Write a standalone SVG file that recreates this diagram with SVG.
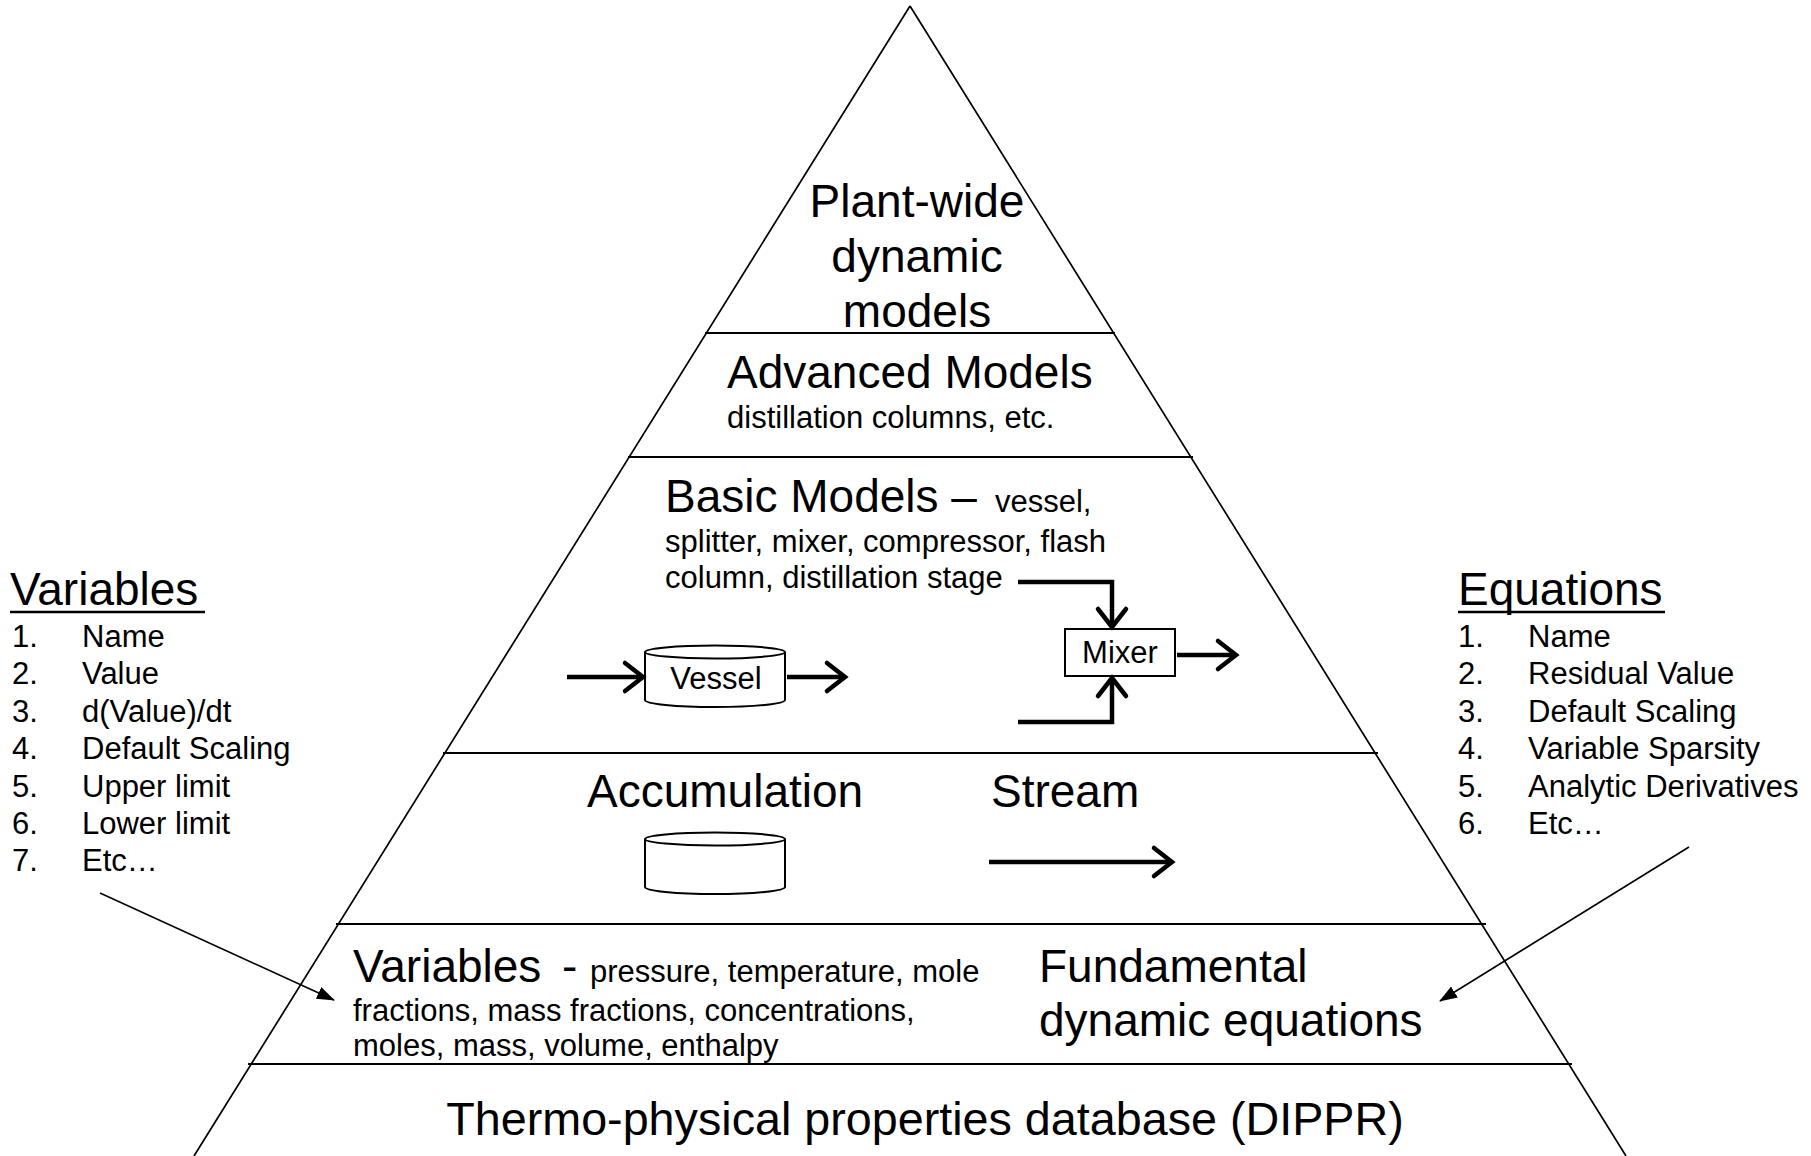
<svg xmlns="http://www.w3.org/2000/svg" width="1811" height="1156" viewBox="0 0 1811 1156">
<style>
text{font-family:"Liberation Sans",Arial,sans-serif;fill:#000}
.big{font-size:46px}
.title{font-size:46px}
.sm{font-size:31px}
.lst{font-size:31px}
.side{stroke:#000;stroke-width:1.7;fill:none}
.hl{stroke:#000;stroke-width:2.2;fill:none}
.thick{stroke:#000;stroke-width:4.5;fill:none;stroke-linecap:butt;stroke-linejoin:miter}
.thin{stroke:#000;stroke-width:1.6;fill:none}
.shape{stroke:#000;stroke-width:2;fill:#fff}
.mid{text-anchor:middle}
</style>
<defs>
<marker id="open" markerUnits="userSpaceOnUse" viewBox="-4 -18 26 36" markerWidth="26" markerHeight="36" refX="18" refY="0" orient="auto">
<path d="M0,-14 L18,0 L0,14" fill="none" stroke="#000" stroke-width="4.5" stroke-linecap="round"/>
</marker>
<marker id="solid" markerUnits="userSpaceOnUse" viewBox="0 -7 18 14" markerWidth="18" markerHeight="14" refX="17" refY="0" orient="auto">
<path d="M0,-6.5 L18,0 L0,6.5 Z" fill="#000"/>
</marker>
</defs>
<rect width="1811" height="1156" fill="#fff"/>

<g id="pyramid">
<path class="side" d="M910,6 L194,1156 M910,6 L1626,1156"/>
<path class="hl" d="M705,333 H1115 M628,457 H1193 M443,753 H1378 M336,924 H1486 M248,1064 H1572"/>
</g>

<g id="layer-plantwide">
<text class="title mid" x="917" y="217">Plant-wide</text>
<text class="title mid" x="917" y="272">dynamic</text>
<text class="title mid" x="917" y="327">models</text>
</g>

<g id="layer-advanced">
<text class="big" x="727" y="388">Advanced Models</text>
<text class="sm" x="727" y="428">distillation columns, etc.</text>
</g>

<g id="layer-basic">
<text x="665" y="512"><tspan class="big">Basic Models –</tspan><tspan class="sm" x="995">vessel,</tspan></text>
<text class="sm" x="665" y="552">splitter, mixer, compressor, flash</text>
<text class="sm" x="665" y="588">column, distillation stage</text>
</g>

<g id="vessel">
<path class="shape" d="M645,652 V700 A70,7 0 0 0 785,700 V652"/>
<ellipse class="shape" cx="715" cy="652" rx="70" ry="6.5"/>
<text class="lst mid" x="716" y="689">Vessel</text>
</g>

<g id="mixer">
<rect class="shape" x="1065" y="629" width="110" height="47"/>
<text class="lst mid" x="1120" y="663">Mixer</text>
</g>

<g id="layer-accumulation">
<text class="big" x="587" y="807">Accumulation</text>
<text class="big" x="991" y="807">Stream</text>
</g>

<g id="accumulation-tank">
<path class="shape" d="M645,839 V887 A70,7 0 0 0 785,887 V839"/>
<ellipse class="shape" cx="715" cy="839" rx="70" ry="6.5"/>
</g>

<g id="layer-variables">
<text x="353" y="982"><tspan class="big">Variables</tspan><tspan class="big" x="562">-</tspan><tspan class="sm" x="590">pressure, temperature, mole</tspan></text>
<text class="sm" x="353" y="1021">fractions, mass fractions, concentrations,</text>
<text class="sm" x="353" y="1056">moles, mass, volume, enthalpy</text>
<text class="big" x="1039" y="982">Fundamental</text>
<text class="big" x="1039" y="1036">dynamic equations</text>
</g>

<g id="layer-database">
<text class="big mid" x="925" y="1135" style="font-size:46.7px">Thermo-physical properties database (DIPPR)</text>
</g>

<g id="variables-list">
<text class="big" x="10" y="605">Variables</text>
<line x1="10" y1="612" x2="205" y2="612" stroke="#000" stroke-width="2.5"/>
<text class="lst"><tspan x="12" y="647">1.</tspan><tspan x="82" y="647">Name</tspan>
<tspan x="12" y="684">2.</tspan><tspan x="82" y="684">Value</tspan>
<tspan x="12" y="722">3.</tspan><tspan x="82" y="722">d(Value)/dt</tspan>
<tspan x="12" y="759">4.</tspan><tspan x="82" y="759">Default Scaling</tspan>
<tspan x="12" y="797">5.</tspan><tspan x="82" y="797">Upper limit</tspan>
<tspan x="12" y="834">6.</tspan><tspan x="82" y="834">Lower limit</tspan>
<tspan x="12" y="871">7.</tspan><tspan x="82" y="871">Etc…</tspan></text>
</g>

<g id="equations-list">
<text class="big" x="1458" y="605">Equations</text>
<line x1="1458" y1="612" x2="1665" y2="612" stroke="#000" stroke-width="2.5"/>
<text class="lst"><tspan x="1458" y="647">1.</tspan><tspan x="1528" y="647">Name</tspan>
<tspan x="1458" y="684">2.</tspan><tspan x="1528" y="684">Residual Value</tspan>
<tspan x="1458" y="722">3.</tspan><tspan x="1528" y="722">Default Scaling</tspan>
<tspan x="1458" y="759">4.</tspan><tspan x="1528" y="759">Variable Sparsity</tspan>
<tspan x="1458" y="797">5.</tspan><tspan x="1528" y="797">Analytic Derivatives</tspan>
<tspan x="1458" y="834">6.</tspan><tspan x="1528" y="834">Etc…</tspan></text>
</g>

<g id="connectors">
<path class="thick" d="M567,677 H643" marker-end="url(#open)"/>
<path class="thick" d="M787,677 H845" marker-end="url(#open)"/>
<path class="thick" d="M1018,582 H1112 V627" marker-end="url(#open)"/>
<path class="thick" d="M1018,722 H1112 V678" marker-end="url(#open)"/>
<path class="thick" d="M1177,655 H1236" marker-end="url(#open)"/>
<path class="thick" d="M989,862 H1172" marker-end="url(#open)"/>
<path class="thin" d="M100,893 L334,1000" marker-end="url(#solid)"/>
<path class="thin" d="M1689,847 L1440,1001" marker-end="url(#solid)"/>
</g>
</svg>
